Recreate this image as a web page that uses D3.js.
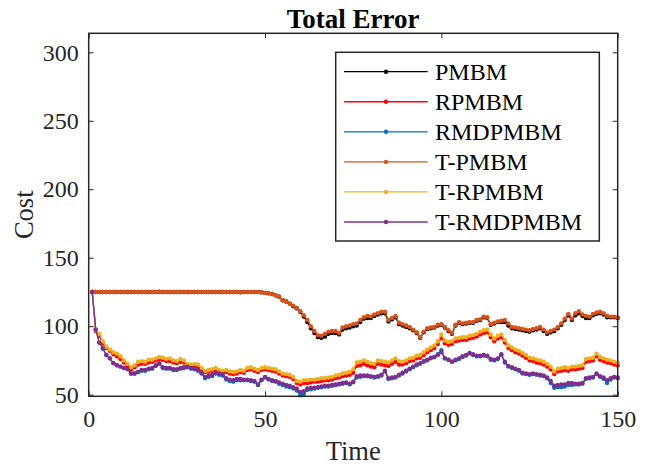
<!DOCTYPE html>
<html>
<head>
<meta charset="utf-8">
<script src="https://cdn.jsdelivr.net/npm/d3@7.9.0/dist/d3.min.js"></script>
<style>
  body { margin: 0; background: #fff; }
  svg { font-family: "Liberation Serif", "Times New Roman", serif; }
</style>
</head>
<body>
<svg id="chart" width="651" height="466"></svg>
<script>
// Series names and colours (MATLAB default order)
const seriesNames = ['PMBM', 'RPMBM', 'RMDPMBM', 'T-PMBM', 'T-RPMBM', 'T-RMDPMBM'];
const seriesColors = ['#000000', '#ff0000', '#0072bd', '#d95319', '#edb120', '#7e2f8e'];

const xTicks = [0, 50, 100, 150];
const yTicks = [50, 100, 150, 200, 250, 300];

// values for time steps 1..150
const pmbm = [
  125, 125, 125, 125, 125, 125, 125, 125, 125, 125,
  125, 125, 125, 125, 125, 125, 125, 125, 125, 125.2,
  125, 125, 125, 125, 125, 125, 125, 125, 125, 125,
  125, 125, 125, 125, 125, 125, 125, 125, 125, 125,
  125, 125, 124.8, 125, 125, 125, 125, 125, 124.8, 124.3,
  124, 123.5, 122.5, 121.5, 119, 118, 116.5, 114.5, 113, 110.5,
  107, 103, 98.5, 95, 92, 91.5, 92.5, 94.5, 95, 95,
  94, 97.5, 98.5, 99, 100, 100.5, 103, 105.5, 106, 106,
  107.5, 108.5, 109.5, 109.5, 103.5, 105, 106.5, 101.5, 100.5, 99.5,
  98.5, 97, 95, 91.5, 95.5, 98, 98.5, 99, 100.5, 101,
  99, 96.5, 94.5, 100.5, 102.5, 101.5, 102, 102.5, 102.5, 104,
  104.5, 106.5, 106, 101, 102, 103, 103, 103, 100.5, 98.5,
  98, 97.5, 97, 96.5, 96, 97, 97.5, 98.5, 96.5, 94.5,
  95.5, 96.5, 98.5, 101, 104.5, 108, 104.5, 108, 109.5, 107.5,
  106, 106, 108, 109, 109.5, 108.5, 106.5, 106.5, 106.5, 106
];
const rpmbm = [
  125, 96.5, 93, 87.5, 84, 82, 79.5, 78, 76, 73.5,
  71, 68.5, 70, 72, 72.5, 72.5, 73.5, 74, 75, 76,
  75.5, 74.5, 74.5, 73.5, 73, 74, 73.5, 71.5, 71, 71,
  70.5, 68.5, 66.5, 67, 67.5, 68, 67, 66.5, 66.5, 65.5,
  65, 65.5, 66.5, 66, 68, 68.5, 67.5, 66.5, 68, 68.5,
  68, 67.5, 67, 65.5, 64, 63.5, 63, 61.5, 58.5, 57.5,
  58.5, 58.5, 59, 59.5, 59.5, 60, 60.5, 60.5, 61, 62,
  62.5, 63.5, 64, 64.5, 66, 71, 71.5, 72.5, 71.5, 70.5,
  70, 72.5, 72, 71.5, 71, 72.5, 74, 72, 72, 73,
  74.5, 75, 76.5, 77, 79, 81, 82.5, 84, 87, 91.5,
  87.5, 86.5, 87, 89, 89.5, 90, 90, 91, 91.5, 92.5,
  94, 95, 95.5, 92, 89, 91, 92, 88, 84, 82.5,
  81, 80, 78.5, 77, 75, 74.5, 73.5, 73, 72, 70.5,
  68.5, 65, 67, 67.5, 68, 67.5, 68.5, 68.5, 69, 69.5,
  74, 74.5, 75, 78, 75.5, 74.5, 73.5, 73, 72, 71.5
];
const rmdpmbm = [
  125, 97.5, 88, 83.5, 79, 76.5, 73, 71.5, 70.5, 69.5,
  68.5, 65.5, 65.5, 66.5, 67.5, 67.5, 68.5, 69, 71, 72.5,
  69.5, 69, 69, 68, 68, 69, 69.5, 70, 69, 68.5,
  67.5, 65.5, 62, 63, 63.5, 65.5, 64.5, 64, 61, 60,
  59.5, 60.5, 60.5, 60.5, 60.5, 60, 59.5, 57, 60.5, 62.5,
  61, 60, 59.5, 58, 57, 56, 55.5, 54.5, 53, 49.5,
  50.5, 53.5, 54, 54.5, 55, 55.5, 56, 56, 56.5, 57,
  57.5, 58, 58.5, 57.5, 59, 62.5, 63, 63.5, 63.5, 63,
  62.5, 63, 64, 67, 61.5, 62, 62.5, 64, 65.5, 67,
  68.5, 70, 71.5, 72.5, 74, 75, 76.5, 77.5, 79.5, 82.5,
  76.5, 75.5, 74, 75, 76, 77.5, 78.5, 80, 79, 78,
  78, 78.5, 78, 75.5, 75, 76, 79, 73.5, 70.5, 69.5,
  68.5, 67.5, 65.5, 65, 64.5, 65, 64.5, 64, 63.5, 62,
  58.5, 55, 55.5, 55.5, 56, 57, 57, 57.5, 57.5, 58,
  61.5, 62, 62.5, 65, 63, 61.5, 58.5, 61, 62.5, 62
];
const tPmbm = [
  125, 125, 125, 125, 125, 125, 125, 125, 125, 125,
  125, 125, 125, 125, 125, 125, 125, 125, 125, 125.2,
  125, 125, 125, 125, 125, 125, 125, 125, 125, 125,
  125, 125, 125, 125, 125, 125, 125, 125, 125, 125,
  125, 125, 124.8, 125, 125, 125, 125, 125, 124.8, 124.3,
  124, 123.5, 122.5, 121.5, 119, 118, 116.5, 115, 113.5, 111,
  108, 104.5, 100, 96.5, 93.5, 93, 94.5, 96, 96.5, 96.5,
  95, 99, 100, 100.5, 101.5, 102, 104.5, 106.5, 107.5, 107,
  108.5, 109.5, 110.5, 110.5, 104.5, 106, 107.5, 102.5, 101.5, 100.5,
  99.5, 97.5, 95.5, 92, 96, 98.5, 99, 99.5, 101, 101.5,
  99.5, 97, 95, 101, 103, 102, 102.5, 103, 103, 104.5,
  105, 107, 106.5, 101.5, 102.5, 103.5, 104, 104.5, 102, 99.5,
  99, 98.5, 98, 97.5, 97, 98, 98.5, 99.5, 97.5, 95.5,
  96.5, 97.5, 99.5, 102, 105.5, 109, 105.5, 109.5, 111, 108.5,
  107.5, 107, 109, 110, 110.5, 109.5, 107.5, 107, 107, 106.5
];
const tRpmbm = [
  125, 97, 94.5, 89, 85, 83, 81, 80, 78, 75,
  72.5, 70, 71.5, 74, 74.5, 74, 75.5, 75.5, 76.5, 77.5,
  77, 76, 76.5, 75, 74.5, 76, 75, 72.5, 72, 72.5,
  72, 69.5, 67.5, 68, 68.5, 69.5, 68, 67.5, 68, 67,
  66.5, 67, 68, 67.5, 69.5, 70, 69, 68, 69.5, 70,
  69.5, 69, 68.5, 67, 65.5, 65, 64.5, 63, 60, 59.5,
  60.5, 60.5, 61, 61, 61.5, 62, 62, 62.5, 63, 64,
  64.5, 65.5, 66, 66.5, 68.5, 73.5, 74, 75, 74, 73,
  72.5, 75, 74.5, 74, 73.5, 75, 76.5, 74.5, 74, 75,
  76.5, 77, 78.5, 79, 81, 83, 84.5, 86, 89, 94,
  89.5, 88.5, 89, 91, 91.5, 92, 92, 93, 93.5, 94.5,
  96, 97, 97.5, 94, 91, 93, 94, 90, 86, 84.5,
  83, 82, 80.5, 79, 77, 76.5, 75.5, 75, 74, 72.5,
  70.5, 67, 69, 69.5, 70, 69.5, 70.5, 70.5, 71, 71.5,
  76, 76.5, 77, 80, 77.5, 76.5, 75.5, 75, 74, 73.5
];
const tRmdpmbm = [
  125, 97.5, 88, 84, 79, 76.5, 73, 71.5, 70.5, 69.5,
  69, 65.5, 65.5, 66.5, 68, 68, 69, 69.5, 71.5, 73,
  70, 69.5, 69.5, 68.5, 68.5, 69.5, 70, 70.5, 69.5, 69,
  68.5, 66, 63, 64, 64.5, 66, 65.5, 65, 62, 61,
  60.5, 61.5, 61.5, 61, 61, 60.5, 60, 57.5, 61, 63,
  61.5, 60.5, 60, 59, 58, 57, 56.5, 55.5, 54.5, 52,
  52.5, 54.5, 55, 55, 55.5, 56, 56.5, 56.5, 57, 57.5,
  58, 58.5, 59, 58, 59.5, 63.5, 64, 64, 64, 63.5,
  63, 63.5, 64.5, 67.5, 62, 62.5, 63, 64.5, 66, 67.5,
  69, 70.5, 72, 73, 74.5, 75.5, 77, 77.5, 79, 81,
  76.5, 75.5, 74, 75.5, 76.5, 78, 79, 80.5, 79.5, 78.5,
  78.5, 79, 78.5, 76, 75.5, 76.5, 79.5, 74, 71, 70,
  69, 68, 66, 65.5, 65, 65.5, 65, 64.5, 64, 62.5,
  60, 56.5, 57, 57.5, 57.5, 58.5, 58.5, 58, 58, 58.5,
  62, 62.5, 63, 65.5, 63.5, 62.5, 60.5, 62, 63, 62.5
];

const allSeries = [pmbm, rpmbm, rmdpmbm, tPmbm, tRpmbm, tRmdpmbm];

const width = 651, height = 466;
const margin = { top: 33.3, right: 33.3, bottom: 69.7, left: 88.7 };
const axisColor = '#262626';

const svg = d3.select('#chart');

const x = d3.scaleLinear().domain([0, 150]).range([margin.left, width - margin.right]);
const y = d3.scaleLinear().domain([48.8, 313.9]).range([height - margin.bottom, margin.top]);

// Lines + markers
const line = d3.line().x((d, i) => x(i + 1)).y(d => y(d));

allSeries.forEach((vals, k) => {
  const g = svg.append('g');
  g.append('path')
    .datum(vals)
    .attr('d', line)
    .attr('fill', 'none')
    .attr('stroke', seriesColors[k])
    .attr('stroke-width', 1.3);
  g.selectAll('circle')
    .data(vals)
    .join('circle')
    .attr('cx', (d, i) => x(i + 1))
    .attr('cy', d => y(d))
    .attr('r', 2.2)
    .attr('fill', seriesColors[k]);
});

// Axes (ticks pointing inward, box style)
function styleAxis(g) {
  g.selectAll('.domain').remove();
  g.selectAll('line').attr('stroke', axisColor).attr('stroke-width', 1);
  g.selectAll('text')
    .attr('fill', axisColor)
    .style('font-size', '24px')
    .style('font-family', '"Liberation Serif", "Times New Roman", serif');
}

svg.append('g')
  .attr('transform', `translate(0,${height - margin.bottom})`)
  .call(d3.axisBottom(x).tickValues(xTicks).tickSize(-5).tickPadding(14))
  .call(styleAxis);

svg.append('g')
  .attr('transform', `translate(0,${margin.top})`)
  .call(d3.axisTop(x).tickValues(xTicks).tickSize(-5).tickFormat(''))
  .call(styleAxis);

svg.append('g')
  .attr('transform', `translate(${margin.left},0)`)
  .call(d3.axisLeft(y).tickValues(yTicks).tickSize(-5).tickPadding(10))
  .call(styleAxis);

svg.append('g')
  .attr('transform', `translate(${width - margin.right},0)`)
  .call(d3.axisRight(y).tickValues(yTicks).tickSize(-5).tickFormat(''))
  .call(styleAxis);

// Frame
svg.append('rect')
  .attr('x', margin.left)
  .attr('y', margin.top)
  .attr('width', width - margin.left - margin.right)
  .attr('height', height - margin.top - margin.bottom)
  .attr('fill', 'none')
  .attr('stroke', axisColor)
  .attr('stroke-width', 1.5);

// Title and axis labels
svg.append('text')
  .attr('x', (margin.left + width - margin.right) / 2)
  .attr('y', 28)
  .attr('text-anchor', 'middle')
  .style('font-size', '27px')
  .style('font-weight', 'bold')
  .attr('fill', '#000')
  .text('Total Error');

svg.append('text')
  .attr('x', (margin.left + width - margin.right) / 2)
  .attr('y', 460)
  .attr('text-anchor', 'middle')
  .style('font-size', '26.5px')
  .attr('fill', axisColor)
  .text('Time');

svg.append('text')
  .attr('transform', `translate(33,${(margin.top + height - margin.bottom) / 2}) rotate(-90)`)
  .attr('text-anchor', 'middle')
  .style('font-size', '26.5px')
  .attr('fill', axisColor)
  .text('Cost');

// Legend
const legend = svg.append('g');
legend.append('rect')
  .attr('x', 335.7)
  .attr('y', 52.3)
  .attr('width', 263.6)
  .attr('height', 188.7)
  .attr('fill', '#fff')
  .attr('stroke', axisColor)
  .attr('stroke-width', 1.5);

const rows = legend.selectAll('g.item')
  .data(seriesNames)
  .join('g')
  .attr('class', 'item')
  .attr('transform', (d, i) => `translate(0,${71.7 + i * 30.06})`);

rows.append('line')
  .attr('x1', 344).attr('x2', 427.7)
  .attr('stroke', (d, i) => seriesColors[i])
  .attr('stroke-width', 1.3);
rows.append('circle')
  .attr('cx', 386).attr('r', 2.2)
  .attr('fill', (d, i) => seriesColors[i]);
rows.append('text')
  .attr('x', 435)
  .attr('dy', '0.35em')
  .style('font-size', '24px')
  .attr('fill', '#000')
  .text(d => d);
</script>
</body>
</html>
